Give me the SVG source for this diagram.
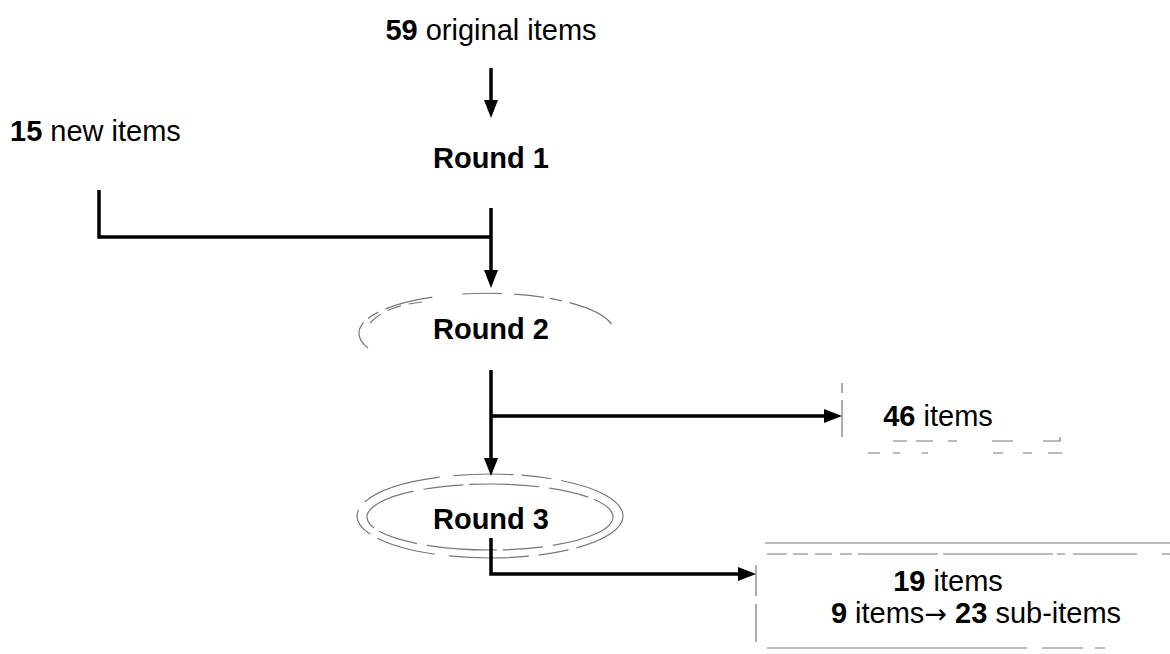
<svg xmlns="http://www.w3.org/2000/svg" width="1170" height="654" viewBox="0 0 1170 654">
<style>
text{font-family:"Liberation Sans",Arial,sans-serif;font-size:29px;fill:#000}
.b{font-weight:bold}
.ar{font-family:"DejaVu Sans",sans-serif;font-size:27px}
.c{fill:none;stroke:#000;stroke-width:3.5}
.d{fill:none;stroke:#777;stroke-width:1.2}
</style>
<defs>
<marker id="ah" viewBox="0 0 18 14" refX="8" refY="7" markerWidth="18" markerHeight="14" markerUnits="userSpaceOnUse" orient="auto">
<path d="M0,0 L18,7 L0,14 z" fill="#000"/>
</marker>
</defs>
<rect width="1170" height="654" fill="#fff"/>
<g id="n-orig"><text x="491" y="40" text-anchor="middle"><tspan class="b">59</tspan> original items</text></g>
<g id="n-round1"><text x="491" y="168" text-anchor="middle" class="b">Round 1</text></g>
<g id="n-new"><text x="10" y="141"><tspan class="b">15</tspan> new items</text></g>
<g id="n-round2">
<path class="d" d="M368,348 A128,40 0 1 1 606,348" stroke-dasharray="30 6 12 8 48 30 40 12"/>
<path class="d" d="M370,323 Q385,306 422,302" stroke-dasharray="14 8"/>
<text x="491" y="339" text-anchor="middle" class="b">Round 2</text>
</g>
<g id="n-round3">
<ellipse class="d" cx="490" cy="516" rx="133" ry="42" stroke-dasharray="60 8 30 10 80 14"/>
<ellipse class="d" cx="490" cy="517" rx="123" ry="33" stroke-dasharray="70 10 40 6"/>
<text x="491" y="529" text-anchor="middle" class="b">Round 3</text>
</g>
<g id="n-46">
<path class="d" d="M842,383 V393 M842,400 V437 M893,441 H907 M916,441 H933 M948,441 H957 M992,441 H1013 M1043,441 H1060 V437 M868,453 H880 M893,453 H900 M922,453 H928 M993,453 H1003 M1023,453 H1032 M1048,453 H1062"/>
<text x="938" y="426" text-anchor="middle"><tspan class="b">46</tspan> items</text>
</g>
<g id="n-19">
<path class="d" d="M765,543 H1170 M767,554 H787 M793,554 H808 M815,554 H832 M840,554 H852 M858,554 H938 M943,554 H1053 M1057,554 H1065 M1073,554 H1137 M1162,554 H1170 M756,565 V596 M756,604 V642 M767,648 H1027 M1042,648 H1083 M1095,648 H1105"/>
<text x="948" y="591" text-anchor="middle"><tspan class="b">19</tspan> items</text>
<text x="976" y="623" text-anchor="middle"><tspan class="b">9</tspan> items<tspan class="ar">→</tspan> <tspan class="b">23</tspan> sub-items</text>
</g>
<g id="connectors">
<path class="c" d="M491,68 V108" marker-end="url(#ah)"/>
<path class="c" d="M99,190 V237 H491"/>
<path class="c" d="M491,208 V278" marker-end="url(#ah)"/>
<path class="c" d="M491,370 V466" marker-end="url(#ah)"/>
<path class="c" d="M491,416 H832" marker-end="url(#ah)"/>
<path class="c" d="M491,538 V574 H746" marker-end="url(#ah)"/>
</g>
</svg>
